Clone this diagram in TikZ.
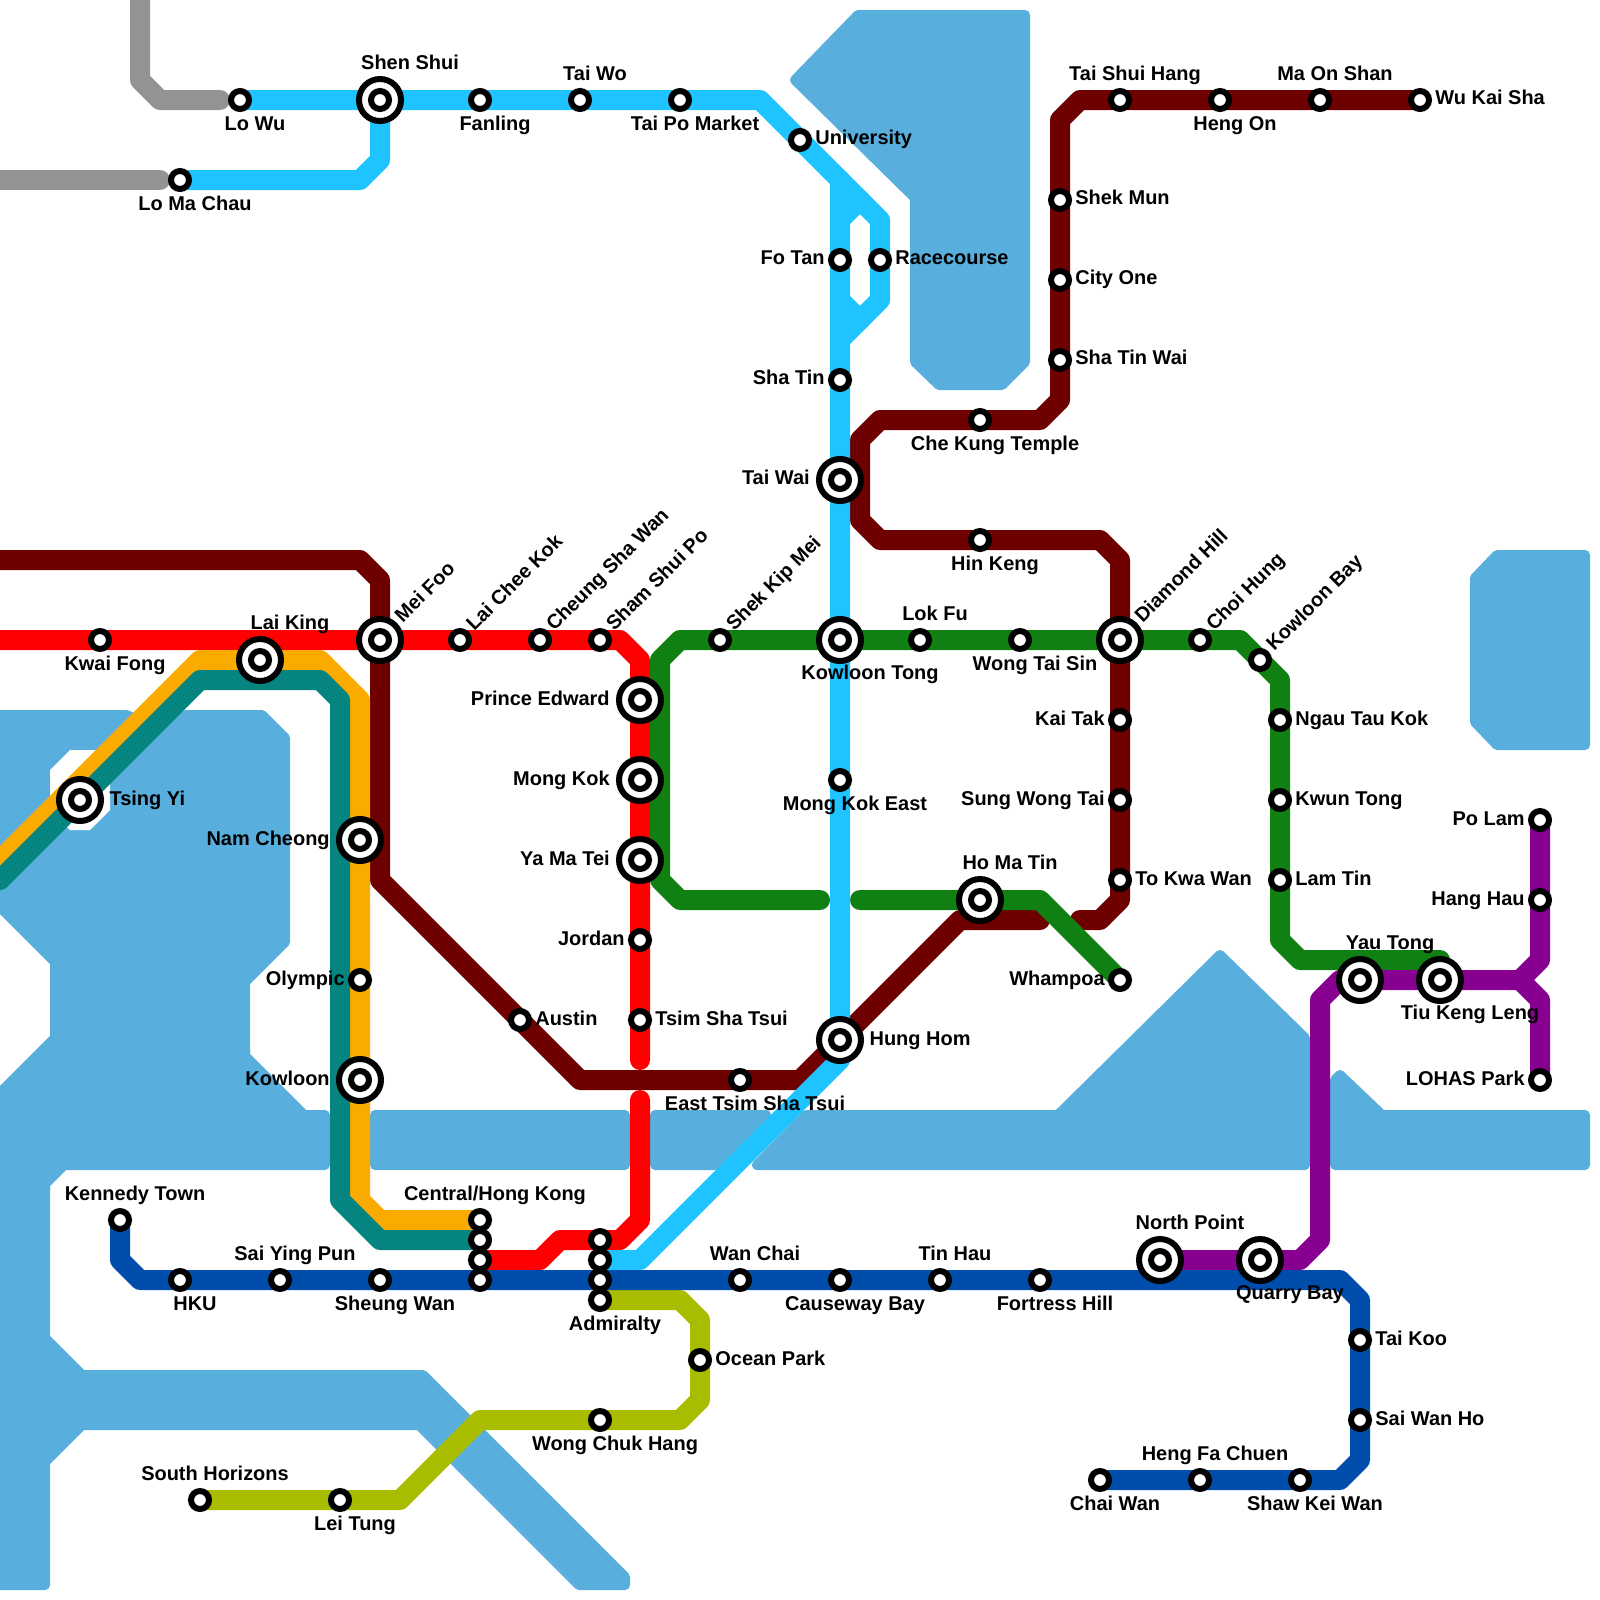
\documentclass[tikz,border=0pt]{standalone}
\usepackage{fontspec}
\setmainfont{Liberation Sans}
\usepackage{xcolor}
\usetikzlibrary{backgrounds}
\definecolor{water}{HTML}{58AEDC}
\definecolor{eastline}{HTML}{1EC3FF}
\definecolor{tsuenline}{HTML}{FF0000}
\definecolor{tmaline}{HTML}{6E0000}
\definecolor{kwuntongline}{HTML}{118012}
\definecolor{airportline}{HTML}{068580}
\definecolor{tungchungline}{HTML}{FBAB00}
\definecolor{islandline}{HTML}{004DAC}
\definecolor{tkoline}{HTML}{880090}
\definecolor{southline}{HTML}{A8BC00}
\definecolor{borderline}{HTML}{939393}

\begin{document}
\begin{tikzpicture}[
  x=0.5cm, y=-0.5cm,
  lbl/.style={rectangle, draw=none, fill=none, inner sep=0pt, outer sep=0pt, minimum size=0pt, text=black,
    font=\bfseries\fontsize{14.2}{16}\selectfont, text height=10pt, text depth=2.9pt},
  station/.style={circle, draw=black, fill=white, line width=0.15cm, inner sep=0pt, minimum size=0.45cm},
  hub/.style={station, minimum size=1.05cm, path picture={\draw[line width=0.15cm, fill=white] (path picture bounding box.center) circle (0.225cm);}},
  lbelow/.style={label={[lbl, xshift=0.375cm, yshift=-3pt]below:#1}},
  labove/.style={label={[lbl, xshift=0.375cm, yshift=2.5pt]above:#1}},
  hbelow/.style={label={[lbl, xshift=0.75cm, yshift=-1pt]below:#1}},
  habove/.style={label={[lbl, xshift=0.75cm, yshift=2pt]above:#1}},
  lright/.style={label={[lbl, xshift=2.4pt]right:#1}},
  lleft/.style={label={[lbl, xshift=-2.4pt]left:#1}},
  hright/.style={label={[lbl, xshift=4pt]right:#1}},
  hleft/.style={label={[lbl, xshift=-4.5pt]left:#1}},
  lrot/.style={label={[lbl, anchor=west, xshift=1.6pt, yshift=2.2pt, rotate=45]45:#1}},
  metro/.style={line width=0.5cm, line cap=round, line join=round},
  sea/.style={fill=water, draw=water, line width=0.25cm, line join=round}
]
\useasboundingbox (0,0) rectangle (80,80);

% east rail
\node[station, lbelow=Lo Wu] (lowu) at (12,5) {};
\node[hub, habove=Shen Shui] (shenshui) at (19,5) {};
\node[station, lbelow=Lo Ma Chau] (lomachau) at (9,9) {};
\node[station, lbelow=Fanling] (fanling) at (24,5) {};
\node[station, labove=Tai Wo] (taiwo) at (29,5) {};
\node[station, lbelow=Tai Po Market] (taipo) at (34,5) {};
\node[station, lright=University] (university) at (40,7) {};
\node[station, lleft=Fo Tan] (fotan) at (42,13) {};
\node[station, lright=Racecourse] (racecourse) at (44,13) {};
\node[station, lleft=Sha Tin] (shatin) at (42,19) {};
\node[hub, hleft=Tai Wai] (taiwai) at (42,24) {};
\node[hub, hbelow=Kowloon Tong] (kowloontong) at (42,32) {};
\node[station, lbelow=Mong Kok East] (mongkokeast) at (42,39) {};
\node[hub, hright=Hung Hom] (hunghom) at (42,52) {};
\node[station, lbelow=East Tsim Sha Tsui] (easttst) at (37,54) {};

% ma on shan side
\node[station, lright=Wu Kai Sha] (wukaisha) at (71,5) {};
\node[station, labove=Ma On Shan] (maonshan) at (66,5) {};
\node[station, lbelow=Heng On] (hengon) at (61,5) {};
\node[station, labove=Tai Shui Hang] (taishuihang) at (56,5) {};
\node[station, lright=Shek Mun] (shekmun) at (53,10) {};
\node[station, lright=City One] (cityone) at (53,14) {};
\node[station, lright=Sha Tin Wai] (shatinwai) at (53,18) {};
\node[station, lbelow=Che Kung Temple] (chekung) at (49,21) {};
\node[station, lbelow=Hin Keng] (hinkeng) at (49,27) {};
\node[hub, lrot=Diamond Hill] (diamondhill) at (56,32) {};
\node[station, lleft=Kai Tak] (kaitak) at (56,36) {};
\node[station, lleft=Sung Wong Tai] (sungwongtai) at (56,40) {};
\node[station, lright=To Kwa Wan] (tokwawan) at (56,44) {};
\node[station, lright=Austin] (austin) at (26,51) {};

% tsuen wan
\node[station, lbelow=Kwai Fong] (kwaifong) at (5,32) {};
\node[hub, habove=Lai King] (laiking) at (13,33) {};
\node[hub, lrot=Mei Foo] (meifoo) at (19,32) {};
\node[station, lrot=Lai Chee Kok] (laicheekok) at (23,32) {};
\node[station, lrot=Cheung Sha Wan] (cheungshawan) at (27,32) {};
\node[station, lrot=Sham Shui Po] (shamshuipo) at (30,32) {};
\node[hub, hleft=Prince Edward] (princeedward) at (32,35) {};
\node[hub, hleft=Mong Kok] (mongkok) at (32,39) {};
\node[hub, hleft=Ya Ma Tei] (yamatei) at (32,43) {};
\node[station, lleft=Jordan] (jordan) at (32,47) {};
\node[station, lright=Tsim Sha Tsui] (tst) at (32,51) {};

% airport and tung chung
\node[hub, hright=Tsing Yi] (tsingyi) at (4,40) {};
\node[hub, hleft=Nam Cheong] (namcheong) at (18,42) {};
\node[station, lleft=Olympic] (olympic) at (18,49) {};
\node[hub, hleft=Kowloon] (kowloon) at (18,54) {};
\node[station, labove=Central/Hong Kong] (centrala) at (24,61) {};
\node[station] (centralb) at (24,62) {};
\node[station] (centralc) at (24,63) {};
\node[station] (centrald) at (24,64) {};

% island
\node[station, labove=Kennedy Town] (kennedy) at (6,61) {};
\node[station, lbelow=HKU] (hku) at (9,64) {};
\node[station, labove=Sai Ying Pun] (saiyingpun) at (14,64) {};
\node[station, lbelow=Sheung Wan] (sheungwan) at (19,64) {};
\node[station] (admiraltya) at (30,62) {};
\node[station] (admiraltyb) at (30,63) {};
\node[station] (admiraltyc) at (30,64) {};
\node[station, lbelow=Admiralty] (admiraltyd) at (30,65) {};
\node[station, labove=Wan Chai] (wanchai) at (37,64) {};
\node[station, lbelow=Causeway Bay] (causeway) at (42,64) {};
\node[station, labove=Tin Hau] (tinhau) at (47,64) {};
\node[station, lbelow=Fortress Hill] (fortress) at (52,64) {};
\node[hub, habove=North Point] (northpoint) at (58,63) {};
\node[hub, hbelow=Quarry Bay] (quarrybay) at (63,63) {};
\node[station, lright=Tai Koo] (taikoo) at (68,67) {};
\node[station, lright=Sai Wan Ho] (saiwanho) at (68,71) {};
\node[station, lbelow=Shaw Kei Wan] (shawkeiwan) at (65,74) {};
\node[station, labove=Heng Fa Chuen] (hengfachuen) at (60,74) {};
\node[station, lbelow=Chai Wan] (chaiwan) at (55,74) {};

% south island
\node[station, lright=Ocean Park] (oceanpark) at (35,68) {};
\node[station, lbelow=Wong Chuk Hang] (wongchukhang) at (30,71) {};
\node[station, lbelow=Lei Tung] (leitung) at (17,75) {};
\node[station, labove=South Horizons] (southhorizons) at (10,75) {};

% kwun tong
\node[station, lrot=Shek Kip Mei] (shekkipmei) at (36,32) {};
\node[station, labove=Lok Fu] (lokfu) at (46,32) {};
\node[station, lbelow=Wong Tai Sin] (wongtaisin) at (51,32) {};
\node[station, lrot=Choi Hung] (choihung) at (60,32) {};
\node[station, lrot=Kowloon Bay] (kowloonbay) at (63,33) {};
\node[station, lright=Ngau Tau Kok] (ngautaukok) at (64,36) {};
\node[station, lright=Kwun Tong] (kwuntong) at (64,40) {};
\node[station, lright=Lam Tin] (lamtin) at (64,44) {};
\node[hub, habove=Yau Tong] (yautong) at (68,49) {};
\node[hub, hbelow=Tiu Keng Leng] (tiukengleng) at (72,49) {};
\node[hub, habove=Ho Ma Tin] (homatin) at (49,45) {};
\node[station, lleft=Whampoa] (whampoa) at (56,49) {};

% tseung kwan o
\node[station, lleft=Po Lam] (polam) at (77,41) {};
\node[station, lleft=Hang Hau] (hanghau) at (77,45) {};
\node[station, lleft=LOHAS Park] (lohas) at (77,54) {};

% bends and free ends
\coordinate (g1) at (7,0); \coordinate (g2) at (7,4); \coordinate (g3) at (8,5); \coordinate (g4) at (11,5);
\coordinate (g5) at (0,9); \coordinate (g6) at (8,9);
\coordinate (e1) at (18,9); \coordinate (e2) at (19,8); \coordinate (e3) at (38,5); \coordinate (e4) at (42,9);
\coordinate (e5) at (44,11); \coordinate (e6) at (44,15); \coordinate (e7) at (42,17);
\coordinate (e8) at (42,53); \coordinate (e9) at (32,63);
\coordinate (e10) at (42,11); \coordinate (e11) at (43,10); \coordinate (e12) at (42,15); \coordinate (e13) at (43,16);
\coordinate (m1) at (0,28); \coordinate (m2) at (18,28); \coordinate (m3) at (19,29); \coordinate (m4) at (19,44);
\coordinate (m5) at (29,54); \coordinate (m6) at (40,54); \coordinate (m7) at (48,46); \coordinate (m8) at (52,46);
\coordinate (m9) at (54,46); \coordinate (m10) at (55,46); \coordinate (m11) at (56,45); \coordinate (m12) at (56,28);
\coordinate (m13) at (55,27); \coordinate (m14) at (44,27); \coordinate (m15) at (43,26); \coordinate (m16) at (43,22);
\coordinate (m17) at (44,21); \coordinate (m18) at (52,21); \coordinate (m19) at (53,20); \coordinate (m20) at (53,6);
\coordinate (m21) at (54,5);
\coordinate (r1) at (0,32); \coordinate (r2) at (31,32); \coordinate (r3) at (32,33); \coordinate (r4) at (32,53);
\coordinate (r5) at (32,55); \coordinate (r6) at (32,61); \coordinate (r7) at (31,62); \coordinate (r8) at (28,62);
\coordinate (r9) at (27,63);
\coordinate (k1) at (41,45); \coordinate (k2) at (34,45); \coordinate (k3) at (33,44); \coordinate (k4) at (33,33);
\coordinate (k5) at (34,32); \coordinate (k6) at (62,32); \coordinate (k7) at (64,34); \coordinate (k8) at (64,47);
\coordinate (k9) at (65,48); \coordinate (k10) at (72,48); \coordinate (k11) at (43,45); \coordinate (k12) at (52,45);
\coordinate (o1) at (0,43); \coordinate (o2) at (10,33); \coordinate (o3) at (16,33); \coordinate (o4) at (18,35);
\coordinate (o5) at (18,60); \coordinate (o6) at (19,61);
\coordinate (t1) at (0,44); \coordinate (t2) at (10,34); \coordinate (t3) at (16,34); \coordinate (t4) at (17,35);
\coordinate (t5) at (17,60); \coordinate (t6) at (19,62);
\coordinate (i1) at (6,63); \coordinate (i2) at (7,64); \coordinate (i3) at (67,64); \coordinate (i4) at (68,65);
\coordinate (i5) at (68,73); \coordinate (i6) at (67,74);
\coordinate (p1) at (65,63); \coordinate (p2) at (66,62); \coordinate (p3) at (66,50); \coordinate (p4) at (67,49);
\coordinate (p5) at (76,49); \coordinate (p6) at (77,48); \coordinate (p7) at (77,50);
\coordinate (s1) at (20,75); \coordinate (s2) at (24,71); \coordinate (s3) at (34,71); \coordinate (s4) at (35,70);
\coordinate (s5) at (35,66); \coordinate (s6) at (34,65);

\begin{scope}[on background layer]
% water
\draw[sea] (-1,35.75) -- (6.3,35.75) -- (8,36.4) -- (9.3,35.75) -- (13.1,35.75) -- (14.25,36.9) -- (14.25,47.1) -- (12.25,49.1) -- (12.25,52.8) -- (15.2,55.75) -- (16.25,55.75) -- (16.25,58.25) -- (3.2,58.25) -- (2.25,59.2) -- (2.25,66.9) -- (4.1,68.75) -- (21.15,68.75) -- (31.25,78.85) -- (31.25,79.25) -- (28.95,79.25) -- (20.95,71.25) -- (4.1,71.25) -- (2.25,73.1) -- (2.25,79.25) -- (-1,79.25) -- (-1,55.65) -- (2.75,51.9) -- (2.75,48.1) -- (-1,44.35) -- cycle;
\fill[white] (2.5,38.5) -- (3.5,37.5) -- (5.5,37.5) -- (5.5,40.5) -- (4.5,41.5) -- (3.5,41.5) -- (2.5,40.5) -- cycle;
\draw[sea] (18.75,55.75) rectangle (31.25,58.25);
\draw[sea] (32.75,55.75) -- (38.3,55.75) -- (35.8,58.25) -- (32.75,58.25) -- cycle;
\draw[sea] (40.3,55.75) -- (52.9,55.75) -- (61,47.75) -- (65.25,51.9) -- (65.25,58.25) -- (37.85,58.25) -- cycle;
\draw[sea] (66.75,54) -- (67,53.75) -- (69.1,55.75) -- (79.25,55.75) -- (79.25,58.25) -- (66.75,58.25) -- cycle;
\draw[sea] (42.9,0.75) -- (51.25,0.75) -- (51.25,18.1) -- (50.1,19.25) -- (46.95,19.25) -- (45.75,18.1) -- (45.75,9.9) -- (39.75,4) -- cycle;
\draw[sea] (74.85,27.75) -- (79.25,27.75) -- (79.25,37.25) -- (74.85,37.25) -- (73.75,36.1) -- (73.75,28.9) -- cycle;
% lines
\draw[metro, borderline] (g1) -- (g2) -- (g3) -- (g4);
\draw[metro, borderline] (g5) -- (g6);
\draw[metro, tsuenline] (r1) -- (kwaifong.center) -- (meifoo.center) -- (laicheekok.center) -- (cheungshawan.center) -- (shamshuipo.center) -- (r2) -- (r3) -- (princeedward.center) -- (mongkok.center) -- (yamatei.center) -- (jordan.center) -- (tst.center) -- (r4);
\draw[metro, tsuenline] (r5) -- (r6) -- (r7) -- (r8) -- (r9) -- (centralc.center);
\draw[metro, tmaline] (m1) -- (m2) -- (m3) -- (meifoo.center) -- (m4) -- (austin.center) -- (m5) -- (easttst.center) -- (m6) -- (hunghom.center) -- (m7) -- (m8);
\draw[metro, tmaline] (m9) -- (m10) -- (m11) -- (tokwawan.center) -- (sungwongtai.center) -- (kaitak.center) -- (diamondhill.center) -- (m12) -- (m13) -- (hinkeng.center) -- (m14) -- (m15) -- (m16) -- (m17) -- (chekung.center) -- (m18) -- (m19) -- (shatinwai.center) -- (cityone.center) -- (shekmun.center) -- (m20) -- (m21) -- (taishuihang.center) -- (hengon.center) -- (maonshan.center) -- (wukaisha.center);
\draw[metro, tungchungline] (o1) -- (o2) -- (o3) -- (o4) -- (namcheong.center) -- (olympic.center) -- (kowloon.center) -- (o5) -- (o6) -- (centrala.center);
\draw[metro, airportline] (t1) -- (t2) -- (t3) -- (t4) -- (t5) -- (t6) -- (centralb.center);
\draw[metro, kwuntongline] (k1) -- (k2) -- (k3) -- (k4) -- (k5) -- (shekkipmei.center) -- (kowloontong.center) -- (lokfu.center) -- (wongtaisin.center) -- (diamondhill.center) -- (choihung.center) -- (k6) -- (k7) -- (ngautaukok.center) -- (kwuntong.center) -- (lamtin.center) -- (k8) -- (k9) -- (k10);
\draw[metro, kwuntongline] (k11) -- (homatin.center) -- (k12) -- (whampoa.center);
\draw[metro, eastline] (lowu.center) -- (shenshui.center) -- (fanling.center) -- (taiwo.center) -- (taipo.center) -- (e3) -- (university.center) -- (e4) -- (fotan.center) -- (shatin.center) -- (taiwai.center) -- (kowloontong.center) -- (mongkokeast.center) -- (hunghom.center) -- (e8) -- (e9) -- (admiraltyb.center);
\draw[metro, eastline] (e4) -- (e5) -- (racecourse.center) -- (e6) -- (e7);
\draw[metro, eastline] (e10) -- (e11);
\draw[metro, eastline] (e12) -- (e13);
\draw[metro, eastline] (lomachau.center) -- (e1) -- (e2) -- (shenshui.center);
\draw[metro, tkoline] (northpoint.center) -- (quarrybay.center) -- (p1) -- (p2) -- (p3) -- (p4) -- (yautong.center) -- (tiukengleng.center) -- (p5) -- (p6) -- (hanghau.center) -- (polam.center);
\draw[metro, tkoline] (p5) -- (p7) -- (lohas.center);
\draw[metro, southline] (admiraltyd.center) -- (s6) -- (s5) -- (oceanpark.center) -- (s4) -- (s3) -- (wongchukhang.center) -- (s2) -- (s1) -- (leitung.center) -- (southhorizons.center);
\draw[metro, islandline] (kennedy.center) -- (i1) -- (i2) -- (hku.center) -- (saiyingpun.center) -- (sheungwan.center) -- (centrald.center) -- (admiraltyc.center) -- (wanchai.center) -- (causeway.center) -- (tinhau.center) -- (fortress.center) -- (i3) -- (i4) -- (taikoo.center) -- (saiwanho.center) -- (i5) -- (i6) -- (shawkeiwan.center) -- (hengfachuen.center) -- (chaiwan.center);
\end{scope}
\end{tikzpicture}
\end{document}
